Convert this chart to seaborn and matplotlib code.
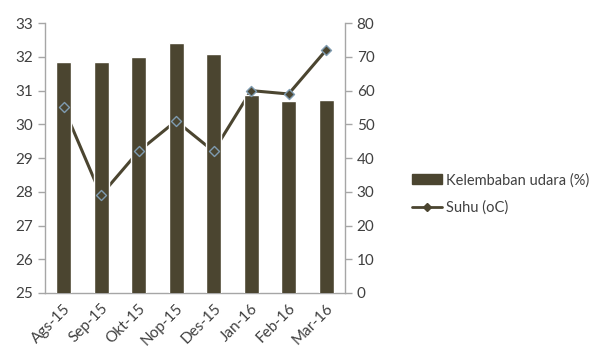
import numpy as np
import pandas as pd
import matplotlib
matplotlib.use("Agg")
import matplotlib.pyplot as plt
import seaborn as sns
from matplotlib.lines import Line2D
from matplotlib.patches import Patch

months = ["Ags-15", "Sep-15", "Okt-15", "Nop-15", "Des-15", "Jan-16", "Feb-16", "Mar-16"]
kelembaban = [31.84, 31.84, 31.99, 32.41, 32.08, 30.87, 30.68, 30.72]
suhu = [55, 29, 42, 51, 42, 60, 59, 72]

sns.set_style("white")
plt.rcParams["font.family"] = ["Lato", "DejaVu Sans"]

bar_color = "#4b4530"
axis_color = "#a6a6a6"
text_color = "#404040"

fig = plt.figure(figsize=(6.05, 3.56), dpi=100)
ax = fig.add_axes([0.074, 0.177, 0.496, 0.758])
df = pd.DataFrame({"bulan": months, "kelembaban": kelembaban, "suhu": suhu})

sns.barplot(data=df, x="bulan", y="kelembaban", color=bar_color, width=0.4,
            saturation=1, ax=ax, zorder=3)
ax.set_ylim(25, 33)
ax.set_yticks(range(25, 34))
ax.set_xlim(-0.5, len(months) - 0.5)

ax2 = ax.twinx()
x = np.arange(len(months))
sns.lineplot(x=x, y=suhu, ax=ax2, color=bar_color, linewidth=2.2, zorder=1)
ax2.set_ylim(0, 80)
ax2.set_yticks(range(0, 81, 10))

# line behind bars, markers drawn on top
ax.set_zorder(2)
ax.patch.set_visible(False)
ax2.set_zorder(1)
ax.scatter(x, [25 + v / 10.0 for v in suhu], marker="D", s=26,
           facecolor=bar_color, edgecolor="#7f9bb0", linewidth=1.0, zorder=5)

for a in (ax, ax2):
    a.spines["top"].set_visible(False)
    for s in ("left", "right", "bottom"):
        a.spines[s].set_color(axis_color)
        a.spines[s].set_linewidth(1.0)
    a.tick_params(colors=text_color, labelsize=11, length=5, color=axis_color, width=1)
    a.grid(False)
ax.spines["right"].set_visible(False)
ax2.spines["left"].set_visible(False)
ax2.spines["bottom"].set_visible(False)

ax.set_xlabel("")
ax.set_ylabel("")
ax2.set_ylabel("")
ax.set_xticks(np.arange(len(months)))
ax.set_xticklabels(months, rotation=45, ha="right", rotation_mode="anchor")
ax.tick_params(axis="x", length=0, pad=6)
ax.set_xticks(np.arange(-0.5, len(months), 1), minor=True)
ax.tick_params(axis="x", which="minor", length=5, color=axis_color, width=1)

handles = [Patch(facecolor=bar_color, edgecolor=bar_color, label="Kelembaban udara (%)"),
           Line2D([0], [0], color=bar_color, lw=2, marker="D", markersize=4,
                  markerfacecolor=bar_color, label="Suhu (oC)")]
leg = fig.legend(handles=handles, loc="center left", bbox_to_anchor=(0.66, 0.455),
                 frameon=False, fontsize=10.5, handlelength=2.0, handletextpad=0.3,
                 labelspacing=0.9)
for t in leg.get_texts():
    t.set_color(text_color)

fig.savefig("out.png", dpi=100)
